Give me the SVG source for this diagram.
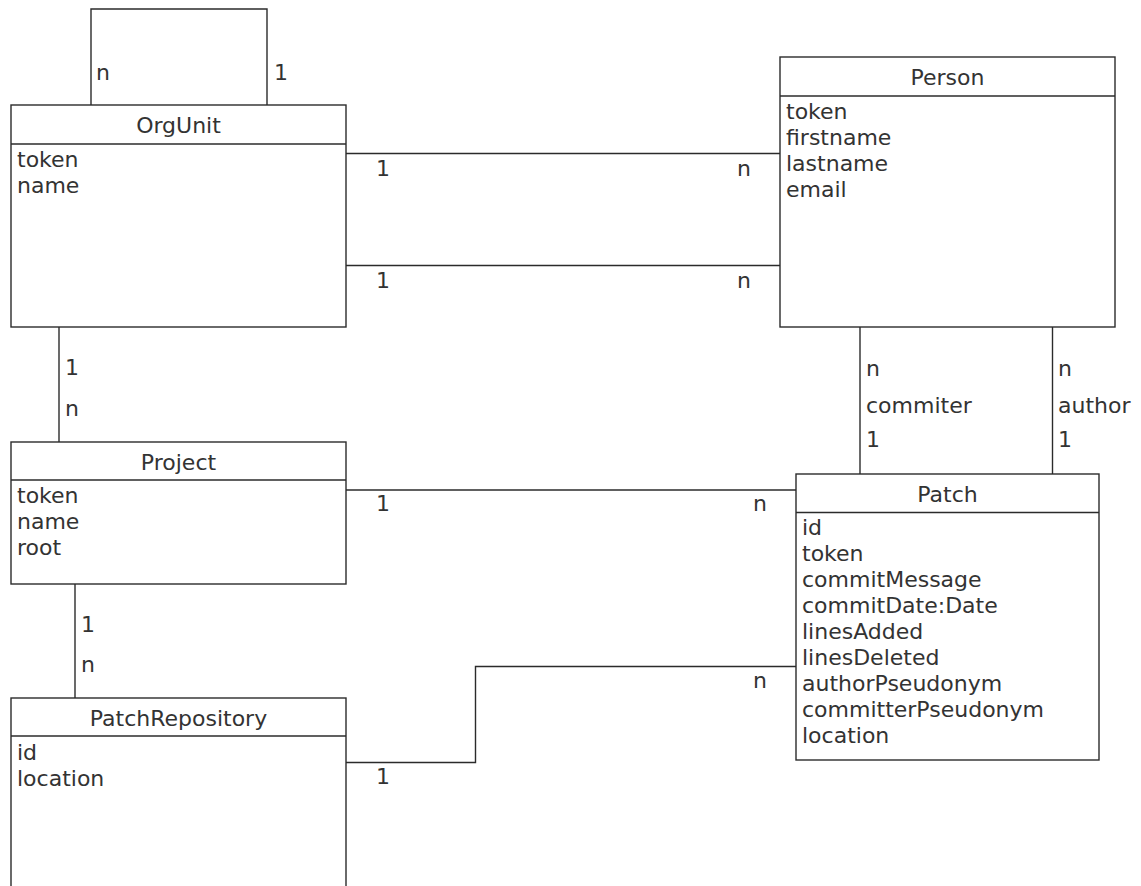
<svg xmlns="http://www.w3.org/2000/svg" width="1141" height="886" viewBox="0 0 1141 886">
  <style>
    .box { fill: #ffffff; stroke: #2b2b2b; stroke-width: 1.4; }
    .sep { stroke: #2b2b2b; stroke-width: 1.4; }
    .edge { fill: none; stroke: #2b2b2b; stroke-width: 1.4; }
    text { font-family: "DejaVu Sans", sans-serif; font-size: 22px; fill: #333333; }
    .title { text-anchor: middle; }
  </style>
  <rect width="1141" height="886" fill="#ffffff"/>

  <!-- connectors -->
  <g id="connectors">
    <!-- OrgUnit self reference -->
    <polyline class="edge" points="91,105 91,9 267,9 267,105"/>
    <text x="96" y="80">n</text>
    <text x="274" y="80">1</text>

    <!-- OrgUnit - Person (two relations) -->
    <line class="edge" x1="346" y1="153.5" x2="780" y2="153.5"/>
    <text x="376" y="176">1</text>
    <text x="737" y="176">n</text>
    <line class="edge" x1="346" y1="265.5" x2="780" y2="265.5"/>
    <text x="376" y="288">1</text>
    <text x="737" y="288">n</text>

    <!-- OrgUnit - Project -->
    <line class="edge" x1="59" y1="327" x2="59" y2="442"/>
    <text x="65" y="375">1</text>
    <text x="65" y="416">n</text>

    <!-- Project - PatchRepository -->
    <line class="edge" x1="75" y1="584" x2="75" y2="698"/>
    <text x="81" y="632">1</text>
    <text x="81" y="672">n</text>

    <!-- Person - Patch (commiter) -->
    <line class="edge" x1="860" y1="327" x2="860" y2="474"/>
    <text x="866" y="376">n</text>
    <text x="866" y="413">commiter</text>
    <text x="866" y="447">1</text>

    <!-- Person - Patch (author) -->
    <line class="edge" x1="1052.5" y1="327" x2="1052.5" y2="474"/>
    <text x="1058" y="376">n</text>
    <text x="1058" y="413">author</text>
    <text x="1058" y="447">1</text>

    <!-- Project - Patch -->
    <line class="edge" x1="346" y1="490" x2="796" y2="490"/>
    <text x="376" y="511">1</text>
    <text x="753" y="511">n</text>

    <!-- PatchRepository - Patch -->
    <polyline class="edge" points="346,762.5 475.5,762.5 475.5,666.5 796,666.5"/>
    <text x="376" y="784">1</text>
    <text x="753" y="688">n</text>
  </g>

  <!-- OrgUnit -->
  <g id="OrgUnit">
    <rect class="box" x="11" y="105" width="335" height="222"/>
    <line class="sep" x1="11" y1="144" x2="346" y2="144"/>
    <text class="title" x="178.5" y="133">OrgUnit</text>
    <text x="17" y="166.5">token</text>
    <text x="17" y="192.5">name</text>
  </g>

  <!-- Person -->
  <g id="Person">
    <rect class="box" x="780" y="57" width="335" height="270"/>
    <line class="sep" x1="780" y1="96" x2="1115" y2="96"/>
    <text class="title" x="947.5" y="85">Person</text>
    <text x="786" y="118.5">token</text>
    <text x="786" y="144.5">firstname</text>
    <text x="786" y="170.5">lastname</text>
    <text x="786" y="196.5">email</text>
  </g>

  <!-- Project -->
  <g id="Project">
    <rect class="box" x="11" y="442" width="335" height="142"/>
    <line class="sep" x1="11" y1="480" x2="346" y2="480"/>
    <text class="title" x="178.5" y="470">Project</text>
    <text x="17" y="503">token</text>
    <text x="17" y="529">name</text>
    <text x="17" y="555">root</text>
  </g>

  <!-- PatchRepository -->
  <g id="PatchRepository">
    <rect class="box" x="11" y="698" width="335" height="200"/>
    <line class="sep" x1="11" y1="736" x2="346" y2="736"/>
    <text class="title" x="178.5" y="726">PatchRepository</text>
    <text x="17" y="759.5">id</text>
    <text x="17" y="786">location</text>
  </g>

  <!-- Patch -->
  <g id="Patch">
    <rect class="box" x="796" y="474" width="303" height="286"/>
    <line class="sep" x1="796" y1="512.5" x2="1099" y2="512.5"/>
    <text class="title" x="947.5" y="502">Patch</text>
    <text x="802" y="535">id</text>
    <text x="802" y="561">token</text>
    <text x="802" y="587">commitMessage</text>
    <text x="802" y="613">commitDate:Date</text>
    <text x="802" y="639">linesAdded</text>
    <text x="802" y="665">linesDeleted</text>
    <text x="802" y="691">authorPseudonym</text>
    <text x="802" y="717">committerPseudonym</text>
    <text x="802" y="743">location</text>
  </g>
</svg>
